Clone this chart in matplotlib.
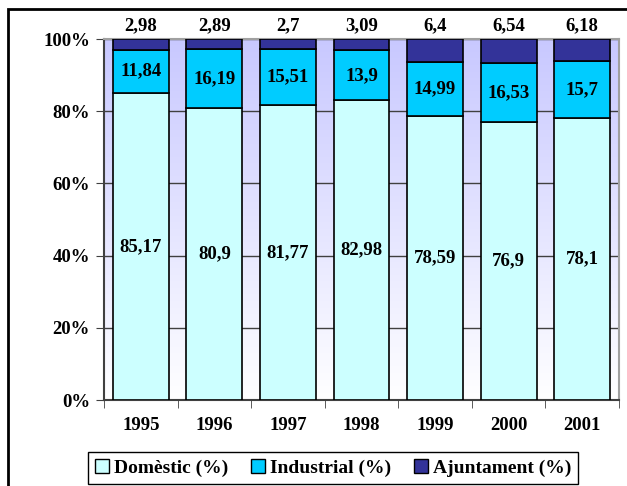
import numpy as np
import matplotlib.pyplot as plt
from matplotlib.colors import LinearSegmentedColormap
from matplotlib.patches import Rectangle

years = ['1995', '1996', '1997', '1998', '1999', '2000', '2001']
domestic = [85.17, 80.9, 81.77, 82.98, 78.59, 76.9, 78.1]
industrial = [11.84, 16.19, 15.51, 13.9, 14.99, 16.53, 15.7]
ajuntament = [2.98, 2.89, 2.7, 3.09, 6.4, 6.54, 6.18]
series_names = ['Domèstic (%)', 'Industrial (%)', 'Ajuntament (%)']
colors = ['#CCFFFF', '#00CCFF', '#333399']

plt.rcParams['font.family'] = ['Liberation Serif', 'DejaVu Serif']
plt.rcParams['font.weight'] = 'bold'

d = np.array(domestic)
i = np.array(industrial)
a = np.array(ajuntament)
tot = d + i + a
dp = d / tot * 100
ip = i / tot * 100
ap = a / tot * 100

fig = plt.figure(figsize=(6.27, 4.86), dpi=100)
ax = fig.add_axes([104 / 627, 86 / 486, 515 / 627, 361 / 486])

# background gradient of the plot area
cmap = LinearSegmentedColormap.from_list('bg', ['#FFFFFF', '#C8C8FF'])
grad = np.linspace(0, 1, 256).reshape(-1, 1)
ax.imshow(grad, cmap=cmap, aspect='auto', extent=[0, 1, 0, 1],
          transform=ax.transAxes, origin='lower', zorder=0)

x = np.arange(len(years))
w = 0.76
ax.bar(x, dp, w, color=colors[0], edgecolor='black', linewidth=1.2,
       label=series_names[0], zorder=3)
ax.bar(x, ip, w, bottom=dp, color=colors[1], edgecolor='black', linewidth=1.2,
       label=series_names[1], zorder=3)
ax.bar(x, ap, w, bottom=dp + ip, color=colors[2], edgecolor='black', linewidth=1.2,
       label=series_names[2], zorder=3)

def fmt(v):
    return ('%g' % v).replace('.', ',')

for k in range(len(years)):
    ax.text(x[k], dp[k] / 2, fmt(domestic[k]), ha='center', va='center',
            fontsize=13.5, fontweight='bold', zorder=4)
    ax.text(x[k], dp[k] + ip[k] / 2, fmt(industrial[k]), ha='center', va='center',
            fontsize=13.5, fontweight='bold', zorder=4)
    ax.text(x[k], 100 + 1.2, fmt(ajuntament[k]), ha='center', va='bottom',
            fontsize=13.5, fontweight='bold', zorder=4, clip_on=False)

ax.set_xlim(-0.5, len(years) - 0.5)
ax.set_ylim(0, 100)
ax.set_yticks(np.arange(0, 101, 20))
ax.set_yticklabels(['%d%%' % v for v in range(0, 101, 20)], fontsize=13.5)
ax.yaxis.grid(True, color='#404040', linewidth=1, zorder=1)
ax.set_axisbelow(True)

ax.set_xticks(x)
ax.set_xticklabels(years, fontsize=13.5)
ax.set_xticks(np.arange(-0.5, len(years), 1), minor=True)
ax.tick_params(axis='x', which='major', length=0, pad=12)
ax.tick_params(axis='x', which='minor', length=6, color='#404040')
ax.tick_params(axis='y', length=6, color='#404040', pad=4)

for s in ['left', 'bottom']:
    ax.spines[s].set_color('#404040')
    ax.spines[s].set_linewidth(1.5)
for s in ['top', 'right']:
    ax.spines[s].set_color('#A0A0A0')
    ax.spines[s].set_linewidth(1.5)

leg = fig.legend(loc='center', bbox_to_anchor=(333 / 627, 1 - 468 / 486), ncol=3,
                 fancybox=False, edgecolor='black', framealpha=1,
                 prop={'family': 'Liberation Serif', 'weight': 'bold', 'size': 14},
                 handlelength=0.75, handleheight=0.75, handletextpad=0.25,
                 columnspacing=1.15, borderpad=0.35)
leg.get_frame().set_linewidth(1)
for h in leg.legend_handles:
    h.set_edgecolor('black')
    h.set_linewidth(1)

# outer chart border (cropped at right and bottom)
fig.patches.append(Rectangle((8 / 627, -0.1), 1.2, 1 - 9 / 486 + 0.1,
                             transform=fig.transFigure, fill=False,
                             edgecolor='black', linewidth=2))

fig.savefig('out.png', dpi=100)
